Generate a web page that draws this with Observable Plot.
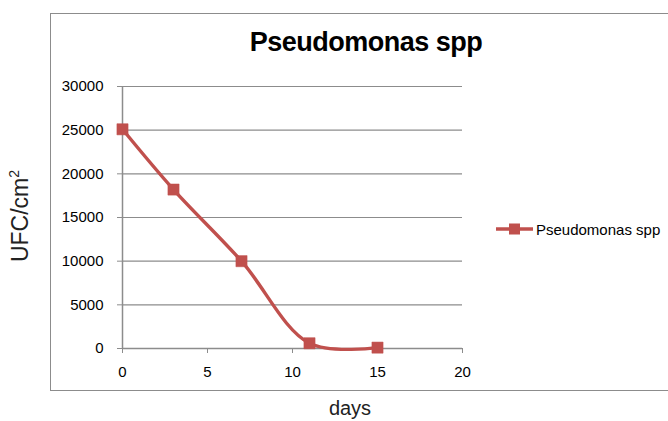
<!DOCTYPE html>
<html>
<head>
<meta charset="utf-8">
<script src="https://cdn.jsdelivr.net/npm/d3@7"></script>
<script src="https://cdn.jsdelivr.net/npm/@observablehq/plot@0.6"></script>
<style>
  html, body { margin: 0; padding: 0; background: #fff; overflow: hidden; }
  #wrap { position: relative; width: 668px; height: 421px; overflow: hidden; font-family: "Liberation Sans", Arial, sans-serif; }
  #box { position: absolute; left: 50px; top: 13px; width: 700px; height: 378px; border: 1.5px solid #8c8c8c; box-sizing: border-box; }
  #chart { position: absolute; left: 0; top: 0; }
  #chart svg text { font-size: 15px; fill: #000; }
  .lbl { position: absolute; white-space: nowrap; color: #000; }
  #title { left: 366px; top: 27px; transform: translateX(-50%); font-weight: bold; font-size: 27px; letter-spacing: -0.5px; }
  #xlab { left: 350px; top: 397px; line-height: 22px; transform: translateX(-50%); font-size: 20px; color: #222; }
  #ylab { left: 20px; top: 216px; transform: translate(-50%, -50%) rotate(-90deg); font-size: 23px; color: #222; }
  #ylab sup { font-size: 14px; vertical-align: 9px; line-height: 0; }
  #legend { left: 496px; top: 219px; display: flex; align-items: center; font-size: 15px; }
  #legend svg { margin-right: 2px; }
</style>
</head>
<body>
<div id="wrap">
  <div id="box"></div>
  <div id="chart"></div>
  <div class="lbl" id="title">Pseudomonas spp</div>
  <div class="lbl" id="xlab">days</div>
  <div class="lbl" id="ylab">UFC/cm<sup>2</sup></div>
  <div class="lbl" id="legend"></div>
</div>
<script>
const seriesName = "Pseudomonas spp";
const days = [0, 3, 7, 11, 15];
const ufc = [25100, 18200, 10000, 600, 100];
const xTicks = [0, 5, 10, 15, 20];
const yTicks = [0, 5000, 10000, 15000, 20000, 25000, 30000];
const color = "#C0504D";
const gridColor = "#8c8c8c";

const data = days.map((d, i) => ({day: d, value: ufc[i]}));

const plot = Plot.plot({
  width: 668,
  height: 421,
  marginLeft: 122,
  marginRight: 206,
  marginTop: 86,
  marginBottom: 73,
  style: {fontFamily: "'Liberation Sans', Arial, sans-serif", fontSize: "15px", background: "transparent", color: "#000"},
  x: {domain: [0, 20], ticks: xTicks},
  y: {domain: [0, 30000], ticks: yTicks},
  marks: [
    Plot.gridY(yTicks, {stroke: gridColor, strokeOpacity: 1, strokeWidth: 1.2}),
    Plot.axisY(yTicks, {tickSize: 5, tickPadding: 14, stroke: gridColor, tickFormat: d => String(d), label: null, fontSize: 15, fill: "#000"}),
    Plot.axisX(xTicks, {tickSize: 5, tickPadding: 13, stroke: gridColor, tickFormat: d => String(d), label: null, fontSize: 15, fill: "#000"}),
    Plot.ruleX([0], {stroke: gridColor, strokeWidth: 1.5}),
    Plot.ruleY([0], {stroke: gridColor, strokeWidth: 1.5}),
    Plot.line(data, {x: "day", y: "value", curve: "catmull-rom", stroke: color, strokeWidth: 3.4}),
    Plot.dot(data, {x: "day", y: "value", symbol: "square", r: 6.3, fill: color, stroke: color, strokeWidth: 0.5})
  ]
});
document.getElementById("chart").appendChild(plot);

// legend built from the series name and colour
const legend = d3.select("#legend");
const ls = legend.append("svg").attr("width", 38).attr("height", 20);
ls.append("line").attr("x1", 0).attr("x2", 37).attr("y1", 10).attr("y2", 10).attr("stroke", color).attr("stroke-width", 3.4);
ls.append("rect").attr("x", 13).attr("y", 4.5).attr("width", 11).attr("height", 11).attr("fill", color);
legend.append("span").text(seriesName);
</script>
</body>
</html>
